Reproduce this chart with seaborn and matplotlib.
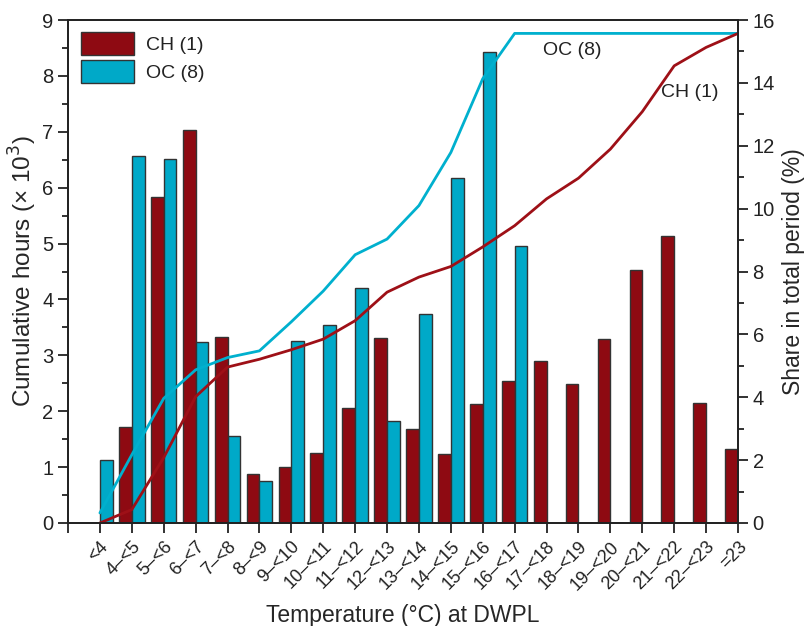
import numpy as np
import pandas as pd
import matplotlib
matplotlib.use("Agg")
import matplotlib.pyplot as plt
import seaborn as sns
from matplotlib.ticker import MultipleLocator
from matplotlib.patches import Patch

# ---------------- data ----------------
categories = ["<4", "4–<5", "5–<6", "6–<7", "7–<8", "8–<9", "9–<10", "10–<11",
              "11–<12", "12–<13", "13–<14", "14–<15", "15–<16", "16–<17",
              "17–<18", "18–<19", "19–<20", "20–<21", "21–<22", "22–<23", "=23"]

# share in total period (%) -> right axis (bars)
ch_share = [0.0, 3.05, 10.36, 12.49, 5.93, 1.57, 1.79, 2.24, 3.66, 5.87, 2.99,
            2.19, 3.79, 4.52, 5.16, 4.42, 5.86, 8.04, 9.12, 3.82, 2.35]
oc_share = [1.99, 11.67, 11.58, 5.76, 2.76, 1.35, 5.78, 6.29, 7.49, 3.23, 6.66,
            10.97, 14.97, 8.80, 0, 0, 0, 0, 0, 0, 0]

# cumulative hours (x 10^3) -> left axis (lines)
ch_cum = [0.0, 0.24, 1.17, 2.26, 2.79, 2.93, 3.10, 3.29, 3.62, 4.13, 4.40,
          4.59, 4.94, 5.32, 5.80, 6.17, 6.69, 7.36, 8.18, 8.51, 8.76]
oc_cum = [0.18, 1.22, 2.23, 2.74, 2.96, 3.08, 3.60, 4.15, 4.80, 5.08, 5.68,
          6.63, 7.95, 8.76, 8.76, 8.76, 8.76, 8.76, 8.76, 8.76, 8.76]

series_names = ["CH (1)", "OC (8)"]
bar_colors = ["#8E0A12", "#00A9C8"]
line_colors = ["#9E1017", "#00B0CE"]

df = pd.DataFrame({
    "cat": categories * 2,
    "share": ch_share + oc_share,
    "series": [series_names[0]] * len(categories) + [series_names[1]] * len(categories),
})

# ---------------- style ----------------
sns.set_style("ticks")
plt.rcParams["font.family"] = ["Liberation Sans", "DejaVu Sans"]
plt.rcParams["axes.linewidth"] = 1.3
plt.rcParams["axes.edgecolor"] = "#222222"
plt.rcParams["xtick.color"] = "#222222"
plt.rcParams["ytick.color"] = "#222222"
plt.rcParams["text.color"] = "#222222"

fig = plt.figure(figsize=(8.05, 6.26), dpi=100)
ax = fig.add_axes([68 / 805, 1 - 523 / 626, (738 - 68) / 805, (523 - 20) / 626])
ax2 = ax.twinx()

sns.barplot(data=df, x="cat", y="share", hue="series", order=categories,
            hue_order=series_names, palette=bar_colors, width=0.8, dodge=True,
            errorbar=None, edgecolor="#333333", linewidth=1.0, saturation=1,
            legend=False, ax=ax2)

n = len(categories)
pos = np.arange(n)
sns.lineplot(x=pos, y=oc_cum, color=line_colors[1], linewidth=2.0, ax=ax)
sns.lineplot(x=pos, y=ch_cum, color=line_colors[0], linewidth=2.0, ax=ax)

ax.set_zorder(ax2.get_zorder() + 1)
ax.patch.set_visible(False)

ax.set_xlim(-1, n - 1)
ax.set_ylim(0, 9)
ax2.set_ylim(0, 16)

ax.set_xticks(np.arange(-1, n))
ax.set_xticklabels([""] + categories, rotation=45, ha="right",
                   rotation_mode="anchor", fontsize=13)
ax.yaxis.set_major_locator(MultipleLocator(1))
ax.yaxis.set_minor_locator(MultipleLocator(0.5))
ax2.yaxis.set_major_locator(MultipleLocator(2))
ax2.yaxis.set_minor_locator(MultipleLocator(1))

ax.tick_params(axis="both", which="major", length=7, width=1.3, labelsize=14.5,
               direction="out")
ax.tick_params(axis="x", labelsize=13, pad=4)
ax.tick_params(axis="y", which="minor", length=4, width=1.3, direction="out")
ax2.tick_params(axis="y", which="major", length=7, width=1.3, labelsize=14.5,
                direction="out")
ax2.tick_params(axis="y", which="minor", length=4, width=1.3, direction="out")

ax.set_xlabel("Temperature (°C) at DWPL", fontsize=16.5, labelpad=8)
ax.set_ylabel("Cumulative hours (× 10$^3$)", fontsize=17.5, labelpad=2)
ax2.set_ylabel("Share in total period (%)", fontsize=16.5, labelpad=5)
ax2.set_xlabel("")

for a in (ax, ax2):
    for s in a.spines.values():
        s.set_visible(True)
        s.set_linewidth(1.3)
        s.set_color("#222222")

handles = [Patch(facecolor=c, edgecolor="#333333", linewidth=1.0) for c in bar_colors]
ax.legend(handles, series_names, loc="upper left",
          bbox_to_anchor=(13 / 670, 1 - 12 / 503), borderaxespad=0, borderpad=0,
          frameon=False, fontsize=14, handlelength=2.7, handleheight=1.45,
          handletextpad=0.65, labelspacing=0.25)

ax.text(14.8, 8.46, "OC (8)", fontsize=14, ha="center", va="center")
ax.text(18.5, 7.71, "CH (1)", fontsize=14, ha="center", va="center")

fig.savefig("out.png", dpi=100)
